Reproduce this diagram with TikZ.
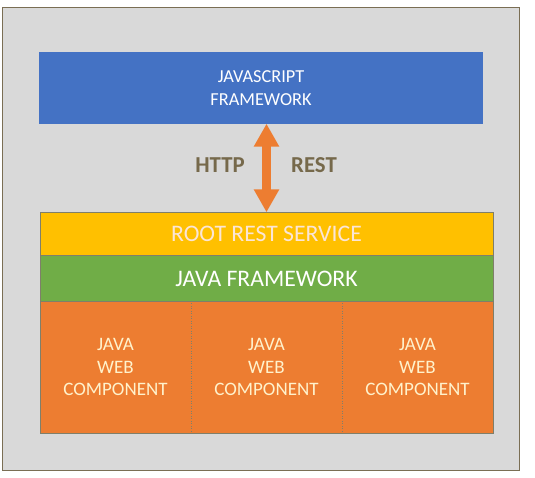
\documentclass[tikz,border=0pt]{standalone}
\usepackage{fontspec}
\setmainfont{Carlito}
\usetikzlibrary{arrows.meta,positioning}

\definecolor{panelgrey}{HTML}{D9D9D9}
\definecolor{framebrown}{HTML}{7A6E54}
\definecolor{jsblue}{HTML}{4472C4}
\definecolor{rootyellow}{HTML}{FFC000}
\definecolor{javagreen}{HTML}{70AD47}
\definecolor{comporange}{HTML}{ED7D31}
\definecolor{edgegrey}{HTML}{7F7F6A}
\definecolor{labelbrown}{HTML}{76694B}
\definecolor{paletext}{HTML}{FBE5D6}
\definecolor{creamtext}{HTML}{FFF2CC}

\begin{document}
\begin{tikzpicture}[x=1pt,y=-1pt,
  jsbox/.style={fill=jsblue, minimum width=444pt, minimum height=72pt, inner sep=0pt,
    align=center, text=white, font=\fontsize{18.3}{23}\selectfont},
  layer/.style={draw=edgegrey, line width=0.4pt, minimum width=453pt, inner sep=0pt,
    align=center, font=\fontsize{23.7}{27}\selectfont},
  comp/.style={fill=comporange, minimum width=151pt, minimum height=132pt, inner sep=0pt,
    align=center, text=creamtext, font=\fontsize{19}{22.5}\selectfont},
  proto/.style={text=labelbrown, font=\fontsize{22.8}{26}\selectfont\bfseries},
  link/.style={{Triangle[width=24pt,length=23pt]}-{Triangle[width=24pt,length=23pt]},
    draw=comporange, line width=9pt, shorten <=-0.5pt, shorten >=-0.5pt}
]
\useasboundingbox (0,0) rectangle (535,477);

% Outer panel
\draw[draw=framebrown, fill=panelgrey, line width=0.8pt] (2,7) rectangle (519,470);

% JavaScript framework on top
\node[jsbox] (js) at (261,88) {JAVASCRIPT\\FRAMEWORK};

% Java stack
\node[layer, fill=rootyellow, minimum height=43pt, text=paletext] (root) at (266.5,233.5) {ROOT REST SERVICE};
\node[layer, fill=javagreen, minimum height=46pt, text=white, below=0pt of root] (java) {JAVA FRAMEWORK};

% Web components
\foreach \i in {0,1,2} {
  \node[comp] (comp\i) at ({115.5+\i*151},367) {JAVA\\WEB\\COMPONENT};
}
\draw[edgegrey, line width=0.4pt] (comp0.north west) rectangle (comp2.south east);
\foreach \i in {0,1} {
  \draw[edgegrey, line width=0.5pt, dotted] (comp\i.north east) -- (comp\i.south east);
}

% Link between the frameworks
\draw[link] (js.south -| root.north) -- (root.north);
\node[proto] (http) at (220,165) {HTTP};
\node[proto] (rest) at (314,165) {REST};

\end{tikzpicture}
\end{document}
